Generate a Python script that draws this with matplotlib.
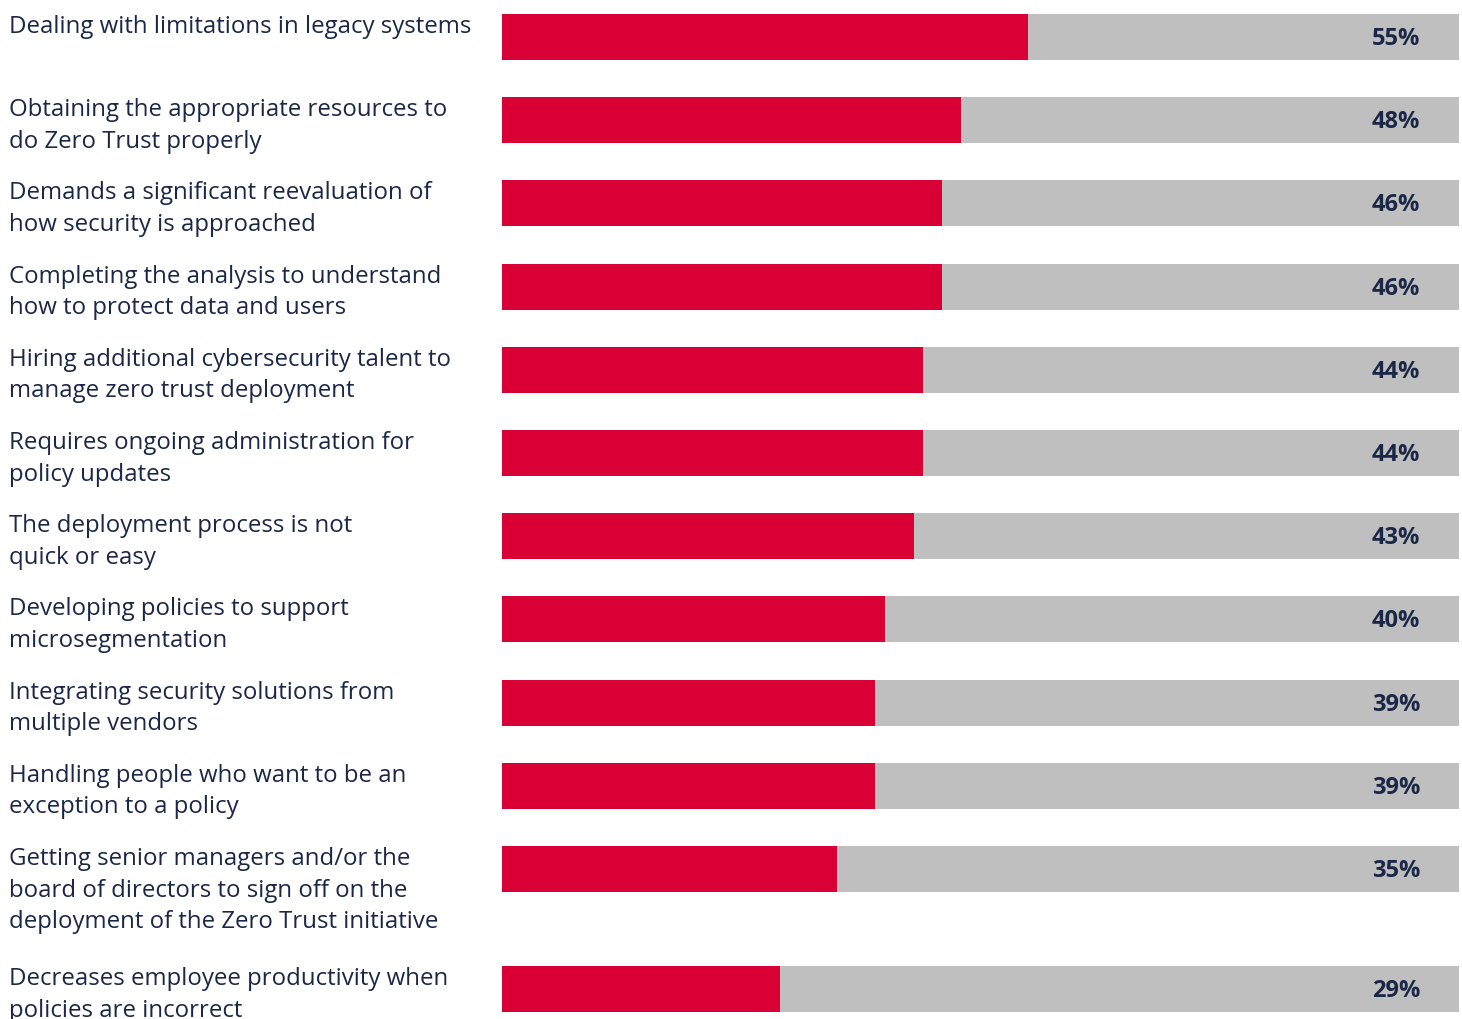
import matplotlib.pyplot as plt
from matplotlib.transforms import blended_transform_factory

plt.rcParams['font.family'] = ['Open Sans', 'DejaVu Sans']

labels = [
    'Dealing with limitations in legacy systems',
    'Obtaining the appropriate resources to\ndo Zero Trust properly',
    'Demands a significant reevaluation of\nhow security is approached',
    'Completing the analysis to understand\nhow to protect data and users',
    'Hiring additional cybersecurity talent to\nmanage zero trust deployment',
    'Requires ongoing administration for\npolicy updates',
    'The deployment process is not\nquick or easy',
    'Developing policies to support\nmicrosegmentation',
    'Integrating security solutions from\nmultiple vendors',
    'Handling people who want to be an\nexception to a policy',
    'Getting senior managers and/or the\nboard of directors to sign off on the\ndeployment of the Zero Trust initiative',
    'Decreases employee productivity when\npolicies are incorrect',
]
values = [55, 48, 46, 46, 44, 44, 43, 40, 39, 39, 35, 29]

RED = '#D90036'
GREY = '#BFBFBF'
NAVY = '#1B2747'

# row centres in pixel units, with extra room under three-line labels
row_step = 83.2
extra_line = 36.8
rows = []
y = 37
for lab in labels:
    rows.append(y)
    y += row_step + max(0, lab.count('\n') - 1) * extra_line

fig = plt.figure(figsize=(14.62, 10.19), dpi=100)
ax = fig.add_axes([502 / 1462, 0, 957 / 1462, 1])
ax.set_xlim(0, 100)
ax.set_ylim(1019, 0)
ax.axis('off')

bar_h = 46
ax.barh(rows, [100] * len(values), height=bar_h, color=GREY, linewidth=0)
ax.barh(rows, values, height=bar_h, color=RED, linewidth=0)

for y, v in zip(rows, values):
    ax.text(93.4, y + 2, f'{v}%', ha='center', va='center', fontsize=17,
            fontweight='bold', color=NAVY)

trans = blended_transform_factory(fig.transFigure, ax.transData)
for y, lab in zip(rows, labels):
    ax.text(9 / 1462, y - bar_h / 2 + 1, lab, transform=trans, ha='left', va='top',
            fontsize=17.3, color=NAVY, linespacing=1.42)

fig.savefig('out.png', dpi=100)
